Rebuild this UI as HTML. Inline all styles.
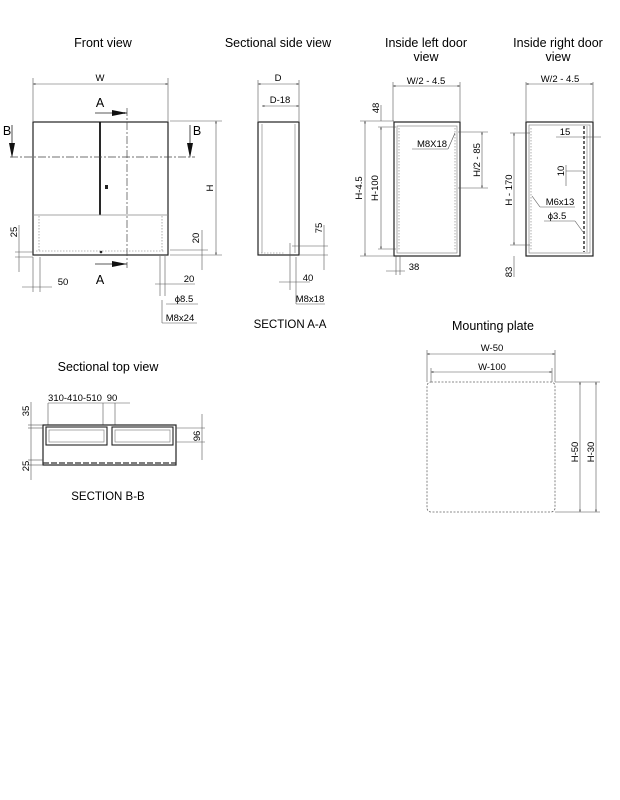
<!DOCTYPE html>
<html><head><meta charset="utf-8"><style>
html,body{margin:0;padding:0;background:#fff;}
svg{display:block;}
text{font-family:"Liberation Sans",sans-serif;fill:#000;}
.t{font-size:12.5px;text-anchor:middle;}
.d{font-size:9.5px;text-anchor:middle;}
.k{stroke:#222;fill:none;stroke-width:1.2;}
.g{stroke:#888;fill:none;stroke-width:0.7;}
.m{stroke:#555;fill:none;stroke-width:0.6;}
.dd{stroke:#777;fill:none;stroke-width:0.6;stroke-dasharray:1.5 1.5;}
.c{stroke:#444;fill:none;stroke-width:0.7;stroke-dasharray:8 2 2 2;}
</style></head><body>
<svg width="620" height="800" viewBox="0 0 620 800" xmlns="http://www.w3.org/2000/svg">
<defs>
<marker id="a" viewBox="0 0 10 10" refX="10" refY="5" markerWidth="6" markerHeight="4" orient="auto-start-reverse"><path d="M0,2 L10,5 L0,8z" fill="#222"/></marker>
</defs>
<!-- titles -->
<text class="t" x="103" y="47">Front view</text>
<text class="t" x="278" y="47">Sectional side view</text>
<text class="t" x="426" y="47">Inside left door</text>
<text class="t" x="426" y="61">view</text>
<text class="t" x="558" y="47">Inside right door</text>
<text class="t" x="558" y="61">view</text>
<text class="t" x="493" y="330">Mounting plate</text>
<text class="t" x="108" y="371">Sectional top view</text>

<!-- FRONT VIEW -->
<line class="m" x1="33" y1="78" x2="33" y2="121"/><line class="m" x1="168" y1="78" x2="168" y2="121"/>
<line class="m" x1="33" y1="84" x2="168" y2="84" marker-start="url(#a)" marker-end="url(#a)"/>
<text class="d" x="100" y="81">W</text>
<rect class="k" x="33" y="122" width="135" height="133"/>
<line x1="100" y1="122" x2="100" y2="215" stroke="#111" stroke-width="1.8"/>
<line class="g" x1="33" y1="215" x2="168" y2="215"/>
<line class="dd" x1="39" y1="216" x2="39" y2="252"/><line class="dd" x1="162" y1="216" x2="162" y2="252"/>
<line class="dd" x1="36" y1="251" x2="165" y2="251"/>
<rect x="105" y="185" width="3" height="4" fill="#222"/>
<circle cx="101" cy="252" r="1.3" fill="#222"/>
<line class="c" x1="127" y1="108" x2="127" y2="268"/>
<line class="c" x1="10" y1="157" x2="195" y2="157"/>
<text class="t" x="100" y="107">A</text>
<line x1="95" y1="113" x2="127" y2="113" stroke="#222" stroke-width="0.8" marker-end="url(#a)"/>
<path d="M112,110 L127,113 L112,116z" fill="#111"/>
<text class="t" x="100" y="284">A</text>
<line x1="95" y1="264" x2="127" y2="264" stroke="#222" stroke-width="0.8"/>
<path d="M112,261 L127,264 L112,267z" fill="#111"/>
<text class="t" x="7" y="135">B</text>
<line x1="12" y1="125" x2="12" y2="145" stroke="#222" stroke-width="0.8"/><path d="M9,143 L12,158 L15,143z" fill="#111"/>
<text class="t" x="197" y="135">B</text>
<line x1="190" y1="125" x2="190" y2="145" stroke="#222" stroke-width="0.8"/><path d="M187,143 L190,158 L193,143z" fill="#111"/>
<line class="m" x1="170" y1="121" x2="222" y2="121"/><line class="m" x1="170" y1="255" x2="222" y2="255"/>
<line class="m" x1="216" y1="121" x2="216" y2="255" marker-start="url(#a)" marker-end="url(#a)"/>
<text class="d" transform="translate(213,188) rotate(-90)">H</text>
<line class="m" x1="15" y1="252" x2="33" y2="252"/><line class="m" x1="15" y1="257" x2="33" y2="257"/>
<line class="m" x1="19" y1="225" x2="19" y2="272"/>
<text class="d" transform="translate(17,232) rotate(-90)">25</text>
<line class="m" x1="33" y1="257" x2="33" y2="292"/><line class="m" x1="40" y1="257" x2="40" y2="292"/>
<line class="m" x1="22" y1="287" x2="52" y2="287"/>
<text class="d" x="63" y="285">50</text>
<line class="m" x1="170" y1="250" x2="208" y2="250"/><line class="m" x1="202" y1="230" x2="202" y2="270"/>
<text class="d" transform="translate(199,238) rotate(-90)">20</text>
<line class="m" x1="160" y1="256" x2="160" y2="296"/><line class="m" x1="165" y1="256" x2="165" y2="296"/>
<line class="m" x1="155" y1="284" x2="195" y2="284"/><text class="d" x="189" y="282">20</text>
<line class="m" x1="166" y1="304" x2="198" y2="304"/><text class="d" x="184" y="302">ϕ8.5</text>
<line class="m" x1="162" y1="300" x2="162" y2="323"/><line class="m" x1="162" y1="323" x2="197" y2="323"/>
<text class="d" x="180" y="321">M8x24</text>

<!-- SIDE VIEW -->
<line class="m" x1="258" y1="80" x2="258" y2="121"/><line class="m" x1="299" y1="80" x2="299" y2="121"/>
<line class="m" x1="258" y1="84" x2="299" y2="84" marker-start="url(#a)" marker-end="url(#a)"/>
<text class="d" x="278" y="81">D</text>
<line class="m" x1="262" y1="106" x2="299" y2="106" marker-start="url(#a)" marker-end="url(#a)"/>
<text class="d" x="280" y="103">D-18</text>
<rect class="k" x="258" y="122" width="41" height="133" stroke-width="0.9"/>
<line class="g" x1="262" y1="124" x2="262" y2="253"/><line class="g" x1="295" y1="124" x2="295" y2="253"/>
<line class="dd" x1="258" y1="253" x2="285" y2="253"/>
<line class="m" x1="290" y1="243" x2="290" y2="290"/>
<line class="m" x1="292" y1="246" x2="328" y2="246"/><line class="m" x1="300" y1="255" x2="328" y2="255"/>
<line class="m" x1="324" y1="225" x2="324" y2="270"/>
<text class="d" transform="translate(322,228) rotate(-90)">75</text>
<line class="m" x1="279" y1="282" x2="310" y2="282"/><text class="d" x="308" y="281">40</text>
<line class="m" x1="296" y1="257" x2="296" y2="304"/><line class="m" x1="296" y1="304" x2="325" y2="304"/>
<text class="d" x="310" y="302">M8x18</text>
<text class="t" x="290" y="328" style="font-size:11.5px">SECTION A-A</text>

<!-- LEFT DOOR -->
<line class="m" x1="393" y1="82" x2="393" y2="121"/><line class="m" x1="460" y1="82" x2="460" y2="121"/>
<line class="m" x1="393" y1="86" x2="460" y2="86" marker-start="url(#a)" marker-end="url(#a)"/>
<text class="d" x="426" y="84">W/2 - 4.5</text>
<rect class="k" x="394" y="122" width="66" height="134"/>
<rect class="g" x="397" y="126" width="60" height="127"/>
<line class="dd" x1="399" y1="128" x2="399" y2="251"/><line class="dd" x1="455" y1="128" x2="455" y2="251"/>
<line class="m" x1="360" y1="121" x2="394" y2="121"/><line class="m" x1="360" y1="256" x2="394" y2="256"/>
<line class="m" x1="365" y1="121" x2="365" y2="256" marker-start="url(#a)" marker-end="url(#a)"/>
<text class="d" transform="translate(362,188) rotate(-90)">H-4.5</text>
<line class="m" x1="378" y1="127" x2="396" y2="127"/><line class="m" x1="378" y1="249" x2="396" y2="249"/>
<line class="m" x1="381" y1="127" x2="381" y2="249" marker-start="url(#a)" marker-end="url(#a)"/>
<line class="m" x1="381" y1="105" x2="381" y2="121"/>
<text class="d" transform="translate(379,108) rotate(-90)">48</text>
<text class="d" transform="translate(378,188) rotate(-90)">H-100</text>
<text class="d" x="432" y="147">M8X18</text>
<line class="m" x1="412" y1="149" x2="448" y2="149"/><line class="m" x1="448" y1="149" x2="455" y2="133"/>
<line class="m" x1="458" y1="132" x2="488" y2="132"/><line class="m" x1="458" y1="188" x2="488" y2="188"/>
<line class="m" x1="482" y1="132" x2="482" y2="188" marker-start="url(#a)" marker-end="url(#a)"/>
<text class="d" transform="translate(480,160) rotate(-90)">H/2 - 85</text>
<line class="m" x1="396" y1="256" x2="396" y2="275"/><line class="m" x1="400" y1="256" x2="400" y2="275"/>
<line class="m" x1="386" y1="271" x2="405" y2="271"/><text class="d" x="414" y="270">38</text>

<!-- RIGHT DOOR -->
<line class="m" x1="526" y1="82" x2="526" y2="121"/><line class="m" x1="593" y1="82" x2="593" y2="121"/>
<line class="m" x1="526" y1="84" x2="593" y2="84" marker-start="url(#a)" marker-end="url(#a)"/>
<text class="d" x="560" y="82">W/2 - 4.5</text>
<rect class="k" x="526" y="122" width="67" height="134" stroke-width="1"/>
<rect class="g" x="529" y="125" width="61" height="128"/>
<line class="dd" x1="531" y1="128" x2="531" y2="250"/>
<line x1="584" y1="126" x2="584" y2="252" stroke="#333" stroke-width="1.5" stroke-dasharray="3 2"/>
<line class="g" x1="587" y1="126" x2="587" y2="252"/>
<line class="m" x1="510" y1="133" x2="530" y2="133"/><line class="m" x1="510" y1="245" x2="530" y2="245"/>
<line class="m" x1="514" y1="133" x2="514" y2="245" marker-start="url(#a)" marker-end="url(#a)"/>
<text class="d" transform="translate(512,190) rotate(-90)">H - 170</text>
<line class="m" x1="514" y1="256" x2="514" y2="277"/>
<text class="d" transform="translate(512,272) rotate(-90)">83</text>
<line class="m" x1="556" y1="137" x2="601" y2="137"/><text class="d" x="565" y="135">15</text>
<line class="m" x1="566" y1="165" x2="566" y2="186"/><line class="m" x1="566" y1="171" x2="584" y2="171"/>
<text class="d" transform="translate(564,171) rotate(-90)">10</text>
<line class="m" x1="532" y1="196" x2="540" y2="207"/><line class="m" x1="540" y1="207" x2="575" y2="207"/>
<text class="d" x="560" y="205">M6x13</text>
<line class="m" x1="544" y1="221" x2="575" y2="221"/><line class="m" x1="575" y1="221" x2="583" y2="232"/>
<text class="d" x="557" y="219">ϕ3.5</text>

<!-- TOP VIEW -->
<text class="d" x="75" y="401">310-410-510</text><text class="d" x="112" y="401">90</text>
<line class="m" x1="48" y1="403" x2="48" y2="425"/><line class="m" x1="103" y1="403" x2="103" y2="425"/>
<line class="m" x1="115" y1="403" x2="115" y2="425"/>
<line class="m" x1="48" y1="403" x2="130" y2="403"/>
<rect class="k" x="43" y="425" width="133" height="40" stroke-width="0.8"/>
<rect x="46" y="427" width="61" height="18" fill="none" stroke="#222" stroke-width="1.1"/>
<rect x="112" y="427" width="61" height="18" fill="none" stroke="#222" stroke-width="1.1"/>
<rect class="g" x="49" y="430" width="55" height="12"/><rect class="g" x="115" y="430" width="55" height="12"/>
<line x1="43" y1="463" x2="176" y2="463" stroke="#333" stroke-width="1.2" stroke-dasharray="6 2"/>
<line class="m" x1="28" y1="425" x2="43" y2="425"/><line class="m" x1="28" y1="428" x2="43" y2="428"/>
<line class="m" x1="31" y1="402" x2="31" y2="480"/>
<text class="d" transform="translate(29,411) rotate(-90)">35</text>
<line class="m" x1="28" y1="460" x2="43" y2="460"/><line class="m" x1="28" y1="465" x2="43" y2="465"/>
<text class="d" transform="translate(29,466) rotate(-90)">25</text>
<line class="m" x1="176" y1="428" x2="205" y2="428"/><line class="m" x1="176" y1="442" x2="205" y2="442"/>
<line class="m" x1="202" y1="414" x2="202" y2="460"/>
<text class="d" transform="translate(200,436) rotate(-90)">96</text>
<text class="t" x="108" y="500" style="font-size:11.5px">SECTION B-B</text>

<!-- MOUNTING PLATE -->
<line class="m" x1="427" y1="350" x2="427" y2="382"/><line class="m" x1="555" y1="350" x2="555" y2="382"/>
<line class="m" x1="427" y1="354" x2="555" y2="354" marker-start="url(#a)" marker-end="url(#a)"/>
<text class="d" x="492" y="351">W-50</text>
<line class="m" x1="431" y1="368" x2="431" y2="382"/><line class="m" x1="552" y1="368" x2="552" y2="382"/>
<line class="m" x1="431" y1="372" x2="552" y2="372" marker-start="url(#a)" marker-end="url(#a)"/>
<text class="d" x="492" y="370">W-100</text>
<rect x="427" y="382" width="128" height="130" rx="4" fill="none" stroke="#666" stroke-width="0.8" stroke-dasharray="2 1.5"/>
<line class="g" x1="555" y1="382" x2="600" y2="382"/><line class="g" x1="555" y1="512" x2="600" y2="512"/>
<line class="m" x1="580" y1="382" x2="580" y2="512" marker-start="url(#a)" marker-end="url(#a)"/>
<line class="m" x1="596" y1="382" x2="596" y2="512" marker-start="url(#a)" marker-end="url(#a)"/>
<text class="d" transform="translate(578,452) rotate(-90)">H-50</text>
<text class="d" transform="translate(594,452) rotate(-90)">H-30</text>
</svg>
</body></html>
